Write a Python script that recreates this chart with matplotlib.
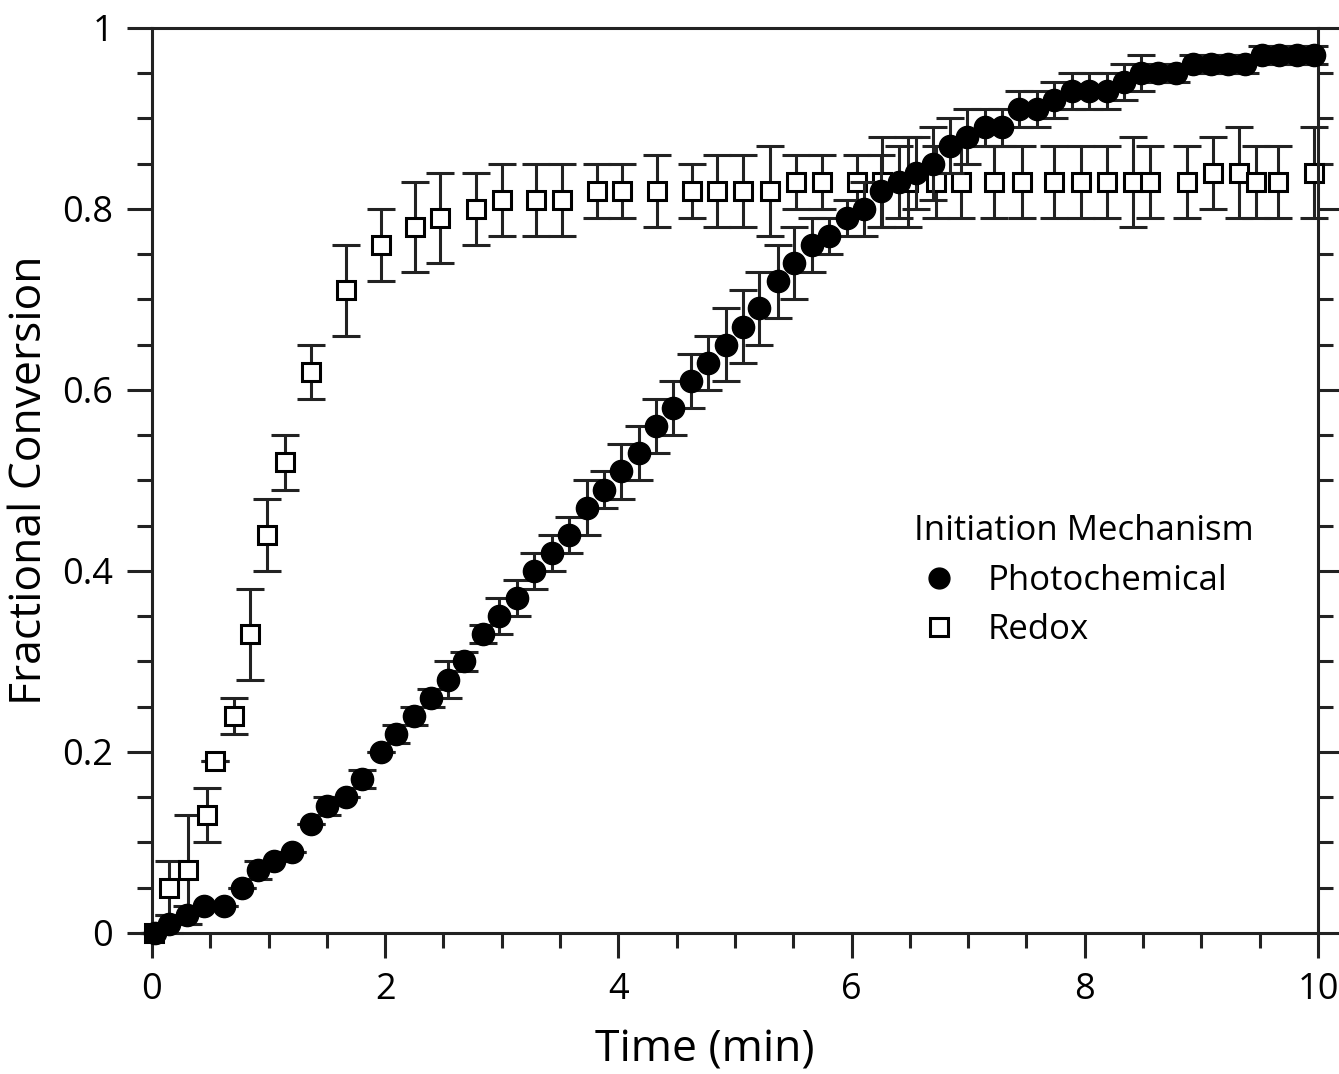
import matplotlib
matplotlib.use('Agg')
import matplotlib.pyplot as plt
from matplotlib.lines import Line2D
from matplotlib.ticker import MultipleLocator

plt.rcParams['font.family'] = ['Open Sans', 'DejaVu Sans']

# Photochemical initiation (filled circles)
photo_t = [0.03, 0.15, 0.30, 0.45, 0.62, 0.77, 0.91, 1.05, 1.20, 1.36,
           1.50, 1.66, 1.80, 1.96, 2.09, 2.25, 2.39, 2.54, 2.68, 2.84,
           2.98, 3.13, 3.28, 3.43, 3.58, 3.73, 3.88, 4.02, 4.18, 4.32,
           4.47, 4.62, 4.77, 4.92, 5.07, 5.21, 5.37, 5.51, 5.66, 5.81,
           5.96, 6.11, 6.25, 6.41, 6.55, 6.70, 6.84, 6.99, 7.14, 7.29,
           7.44, 7.59, 7.74, 7.89, 8.04, 8.19, 8.34, 8.48, 8.63, 8.78,
           8.93, 9.08, 9.23, 9.37, 9.52, 9.67, 9.82, 9.97]
photo_v = [0.00, 0.01, 0.02, 0.03, 0.03, 0.05, 0.07, 0.08, 0.09, 0.12,
           0.14, 0.15, 0.17, 0.20, 0.22, 0.24, 0.26, 0.28, 0.30, 0.33,
           0.35, 0.37, 0.40, 0.42, 0.44, 0.47, 0.49, 0.51, 0.53, 0.56,
           0.58, 0.61, 0.63, 0.65, 0.67, 0.69, 0.72, 0.74, 0.76, 0.77,
           0.79, 0.80, 0.82, 0.83, 0.84, 0.85, 0.87, 0.88, 0.89, 0.89,
           0.91, 0.91, 0.92, 0.93, 0.93, 0.93, 0.94, 0.95, 0.95, 0.95,
           0.96, 0.96, 0.96, 0.96, 0.97, 0.97, 0.97, 0.97]
photo_err = [0.00, 0.01, 0.01, 0.00, 0.00, 0.00, 0.01, 0.00, 0.00, 0.00,
             0.01, 0.00, 0.01, 0.00, 0.01, 0.01, 0.01, 0.02, 0.01, 0.01,
             0.02, 0.02, 0.02, 0.02, 0.02, 0.03, 0.02, 0.03, 0.03, 0.03,
             0.03, 0.03, 0.03, 0.04, 0.04, 0.04, 0.04, 0.04, 0.03, 0.02,
             0.02, 0.03, 0.04, 0.04, 0.04, 0.04, 0.03, 0.03, 0.02, 0.02,
             0.02, 0.02, 0.02, 0.02, 0.02, 0.02, 0.02, 0.02, 0.01, 0.01,
             0.01, 0.01, 0.01, 0.01, 0.01, 0.01, 0.01, 0.01]

# Redox initiation (open squares)
redox_t = [0.02, 0.15, 0.31, 0.47, 0.54, 0.70, 0.84, 0.99, 1.14, 1.36,
           1.66, 1.96, 2.26, 2.47, 2.78, 3.00, 3.29, 3.52, 3.82, 4.03,
           4.33, 4.63, 4.85, 5.07, 5.30, 5.52, 5.75, 6.05, 6.26, 6.48,
           6.72, 6.94, 7.22, 7.46, 7.74, 7.97, 8.19, 8.41, 8.56, 8.88,
           9.10, 9.32, 9.47, 9.66, 9.97]
redox_v = [0.00, 0.05, 0.07, 0.13, 0.19, 0.24, 0.33, 0.44, 0.52, 0.62,
           0.71, 0.76, 0.78, 0.79, 0.80, 0.81, 0.81, 0.81, 0.82, 0.82,
           0.82, 0.82, 0.82, 0.82, 0.82, 0.83, 0.83, 0.83, 0.83, 0.83,
           0.83, 0.83, 0.83, 0.83, 0.83, 0.83, 0.83, 0.83, 0.83, 0.83,
           0.84, 0.84, 0.83, 0.83, 0.84]
redox_err = [0.00, 0.03, 0.06, 0.03, 0.00, 0.02, 0.05, 0.04, 0.03, 0.03,
             0.05, 0.04, 0.05, 0.05, 0.04, 0.04, 0.04, 0.04, 0.03, 0.03,
             0.04, 0.03, 0.04, 0.04, 0.05, 0.03, 0.03, 0.03, 0.05, 0.05,
             0.04, 0.04, 0.04, 0.04, 0.04, 0.04, 0.04, 0.05, 0.04, 0.04,
             0.04, 0.05, 0.04, 0.04, 0.05]

x_ticks = [0, 2, 4, 6, 8, 10]
x_labels = ['0', '2', '4', '6', '8', '10']
y_ticks = [0, 0.2, 0.4, 0.6, 0.8, 1.0]
y_labels = ['0', '0.2', '0.4', '0.6', '0.8', '1']

fig = plt.figure(figsize=(13.39, 10.74), dpi=100)
ax = fig.add_axes([0.1135, 0.1313, 0.8708, 0.8427])

ax.errorbar(redox_t, redox_v, yerr=redox_err, fmt='s', ms=13, mfc='white',
            mec='black', mew=2.2, ecolor='#222222', elinewidth=2.2,
            capsize=10, capthick=2.2, zorder=2, clip_on=False)
ax.errorbar(photo_t, photo_v, yerr=photo_err, fmt='o', ms=16, mfc='black',
            mec='black', ecolor='#222222', elinewidth=2.2,
            capsize=10, capthick=2.2, zorder=3, clip_on=False)

ax.set_xlim(0, 10)
ax.set_ylim(0, 1)
ax.set_xticks(x_ticks)
ax.set_xticklabels(x_labels)
ax.set_yticks(y_ticks)
ax.set_yticklabels(y_labels)
ax.xaxis.set_minor_locator(MultipleLocator(0.5))
ax.yaxis.set_minor_locator(MultipleLocator(0.05))

ax.tick_params(which='both', direction='out', width=2.2, color='#222222',
               labelsize=26, right=True, top=False)
ax.tick_params(which='major', length=18, pad=10)
ax.tick_params(which='minor', length=11)
for s in ax.spines.values():
    s.set_linewidth(2.2)
    s.set_color('#222222')

ax.set_xlabel('Time (min)', fontsize=32)
ax.xaxis.set_label_coords(0.474, -0.105)
ax.set_ylabel('Fractional Conversion', fontsize=32)
ax.yaxis.set_label_coords(-0.086, 0.5)

handles = [Line2D([], [], ls='none', marker='o', ms=15, mfc='black', mec='black'),
           Line2D([], [], ls='none', marker='s', ms=13, mfc='white', mec='black', mew=2.2)]
leg = ax.legend(handles, ['Photochemical', 'Redox'], title='Initiation Mechanism',
                frameon=False, fontsize=25, title_fontsize=25, alignment='left',
                loc='upper left', bbox_to_anchor=(0.639, 0.482),
                handlelength=1.4, handletextpad=0.7, labelspacing=0.45, borderpad=0)

fig.savefig('out.png', dpi=100)
